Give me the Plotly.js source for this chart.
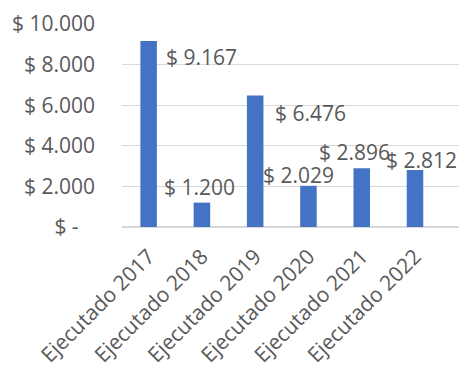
<!DOCTYPE html>
<html>
<head>
<meta charset="utf-8">
<script src="https://cdn.plot.ly/plotly-3.0.1.min.js"></script>
<style>html,body{margin:0;padding:0;background:#fff;}#chart{width:475px;height:367px;}</style>
</head>
<body>
<div id="chart"></div>
<script>
var categories = ["Ejecutado 2017","Ejecutado 2018","Ejecutado 2019","Ejecutado 2020","Ejecutado 2021","Ejecutado 2022"];
var values = [9167, 1200, 6476, 2029, 2896, 2812];
var yTickVals = [0, 2000, 4000, 6000, 8000, 10000];
var yTickText = ["$ -\u00a0\u00a0\u00a0", "$ 2.000", "$ 4.000", "$ 6.000", "$ 8.000", "$ 10.000"];

// label offsets (pixels): horizontal from bar centre, vertical (screen, down positive) from bar top
var labelDX = [15, -40, 18, -47, -45, -31];
var labelDY = [16, -16, 17, -11, -16, -10];

function fmt(v){
  return "$ " + String(v).replace(/\B(?=(\d{3})+(?!\d))/g, ".");
}

var FONT = "Open Sans, Liberation Sans, Arial, sans-serif";
var GREY = "#595959";

var annotations = categories.map(function(c, i){
  return {
    x: c, y: values[i], xref: "x", yref: "y",
    text: fmt(values[i]), showarrow: false,
    xanchor: "left", yanchor: "middle",
    xshift: labelDX[i], yshift: -labelDY[i],
    font: {family: FONT, size: 21, color: GREY}
  };
});

var trace = {
  type: "bar", x: categories, y: values,
  marker: {color: "#4472C4"},
  hoverinfo: "none"
};

var layout = {
  width: 475, height: 367,
  margin: {l: 122, r: 16, t: 24, b: 140},
  paper_bgcolor: "#fff", plot_bgcolor: "#fff",
  showlegend: false,
  bargap: 0.69,
  font: {family: FONT, size: 21, color: GREY},
  xaxis: {
    type: "category",
    tickangle: -45,
    showgrid: false, showline: false, zeroline: false,
    ticks: "",
    ticklabelstandoff: 12,
    tickfont: {family: FONT, size: 21, color: GREY}
  },
  yaxis: {
    range: [0, 10000],
    tickvals: yTickVals, ticktext: yTickText,
    showgrid: true, gridcolor: "#d9d9d9", gridwidth: 1.3,
    zeroline: true, zerolinecolor: "#d9d9d9", zerolinewidth: 1.3,
    showline: false, ticks: "",
    ticklabelstandoff: 26,
    tickfont: {family: FONT, size: 21, color: GREY}
  },
  annotations: annotations
};

Plotly.newPlot("chart", [trace], layout, {displayModeBar: false, staticPlot: true});
</script>
</body>
</html>
